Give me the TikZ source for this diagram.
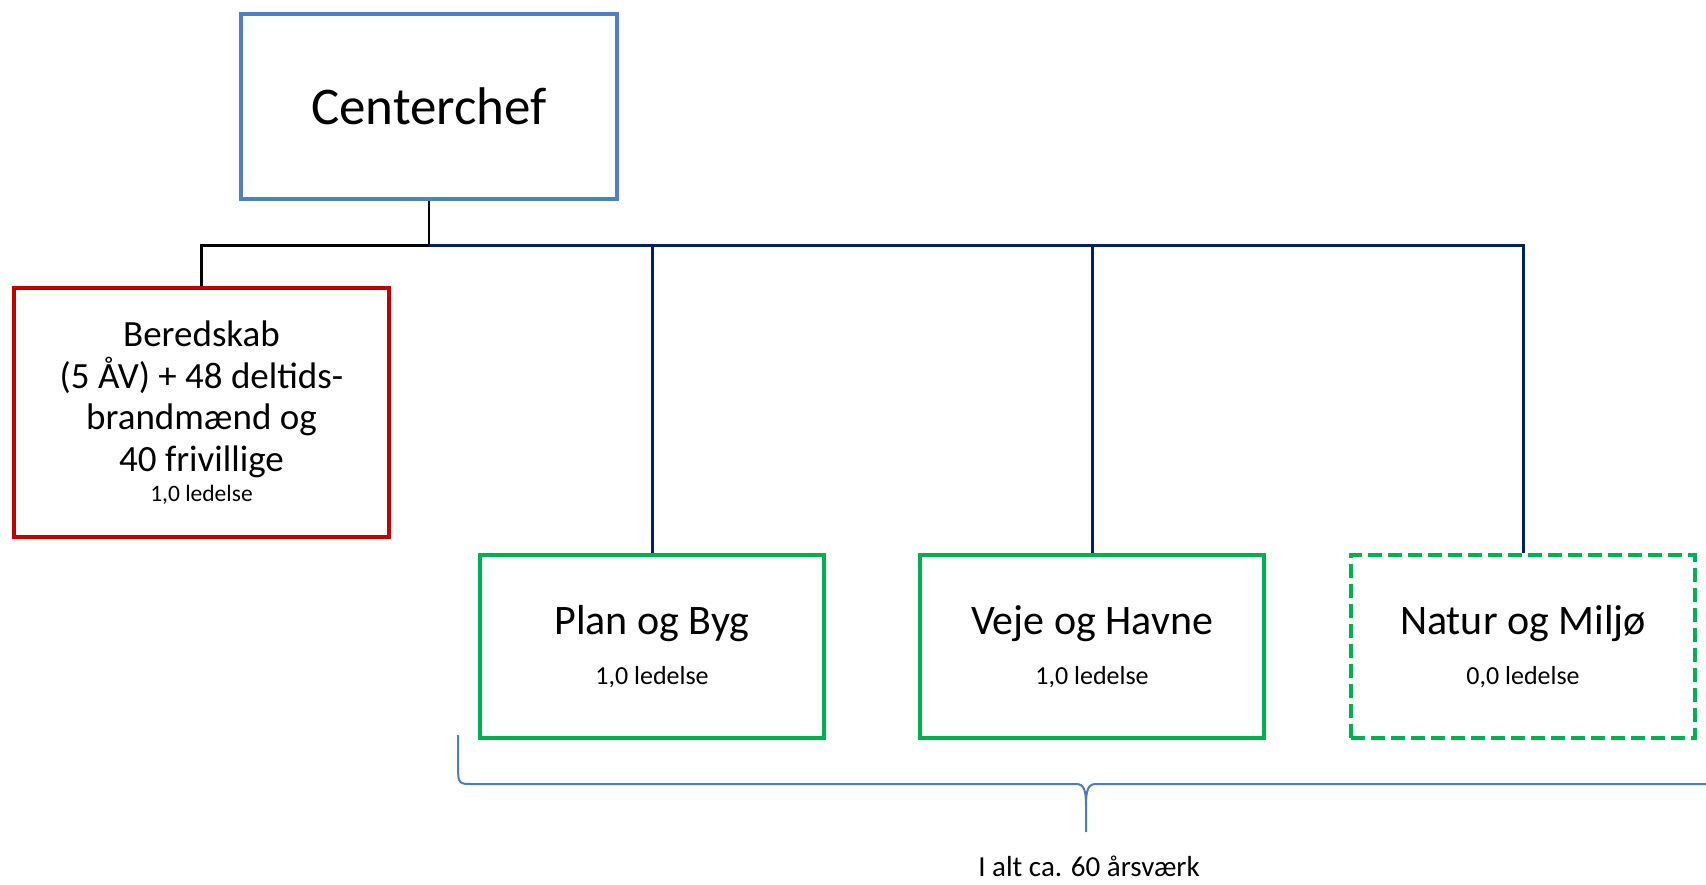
\documentclass[tikz,border=0pt]{standalone}
\usepackage{fontspec}
\setmainfont{Carlito}
\usetikzlibrary{positioning}

\definecolor{chefblue}{HTML}{4F81BD}
\definecolor{beredred}{HTML}{C00000}
\definecolor{afdgreen}{HTML}{00B050}
\definecolor{linenavy}{HTML}{002060}
\definecolor{braceblue}{HTML}{4A7EBB}

\tikzset{
  orgbox/.style={draw,line width=4pt,inner sep=0pt,align=center},
  afd/.style={orgbox,draw=afdgreen,minimum width=344pt,minimum height=183pt,
    font=\fontsize{42}{50}\selectfont},
  chefline/.style={line width=2.5pt},
  navyline/.style={draw=linenavy,line width=3pt},
}

\begin{document}
\begin{tikzpicture}[x=1pt,y=-1pt,on grid]
\useasboundingbox (0,0) rectangle (1706,884);
% boxes
\node[orgbox,draw=chefblue,line width=4.5pt,minimum width=376pt,minimum height=185pt,
  font=\fontsize{53}{60}\selectfont] (chef) at (429,106.5) {Centerchef};
\node[orgbox,draw=beredred,minimum width=375pt,minimum height=249pt,
  font=\fontsize{37}{41.7}\selectfont] (bered) [below left=306pt and 227.5pt of chef]
  {Beredskab\\(5 ÅV) + 48 deltids-\\brandmænd og\\40 frivillige\\[-11.7pt]{\fontsize{23.5}{28}\selectfont 1,0 ledelse}};
\node[afd] (plan) [below right=540pt and 223pt of chef]
  {Plan og Byg\\{\fontsize{26}{31}\selectfont 1,0 ledelse}};
\node[afd] (veje) [right=440pt of plan]
  {Veje og Havne\\{\fontsize{26}{31}\selectfont 1,0 ledelse}};
\node[afd,dash pattern=on 14pt off 6pt] (natur) [right=431pt of veje]
  {Natur og Miljø\\{\fontsize{26}{31}\selectfont 0,0 ledelse}};
% connectors
\coordinate[below=139pt of chef] (hub);
\draw[chefline] (chef) -- (hub) -| (bered);
\draw[navyline] (hub) -| (natur);
\draw[navyline] (plan |- hub) -- (plan);
\draw[navyline] (veje |- hub) -- (veje);
% brace
\coordinate (tip) at (1086,832);
\draw[braceblue,line width=2pt] (458,735) -- (458,768)
  .. controls (458,784) and (460,784) .. (472,784) -- (1076,784)
  .. controls (1084,784) and (1086,790) .. (1086,806) -- (tip);
\draw[braceblue,line width=2pt] (1086,806)
  .. controls (1086,790) and (1088,784) .. (1096,784) -- (1706,784);
\node[anchor=base,font=\fontsize{29}{35}\selectfont] (total) at (1089,876) {I alt ca. 60 årsværk};
\end{tikzpicture}
\end{document}
